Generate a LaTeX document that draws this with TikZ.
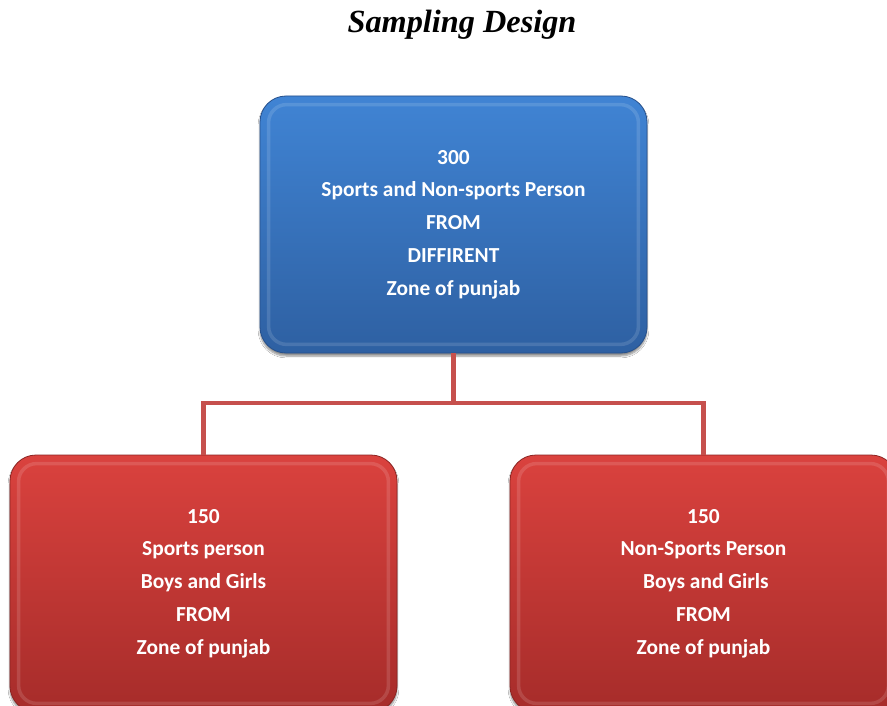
\documentclass[tikz,border=0pt]{standalone}
\usepackage{fontspec}
\setmainfont{Liberation Serif}
\newfontfamily\boxfont{Carlito}
\usetikzlibrary{calc,shadows.blur}
\definecolor{bluetop}{RGB}{64,132,212}
\definecolor{bluebot}{RGB}{46,96,162}
\definecolor{blueedge}{RGB}{38,80,140}
\definecolor{redtop}{RGB}{218,66,62}
\definecolor{redbot}{RGB}{166,44,42}
\definecolor{rededge}{RGB}{140,36,34}
\definecolor{linkred}{RGB}{198,80,77}
\tikzset{
  boxbase/.style={rectangle, rounded corners=26pt, minimum width=387pt, align=center,
    text=white, font=\boxfont\bfseries\fontsize{21.4}{32.8}\selectfont, line width=0.8pt,
    blur shadow={shadow xshift=0pt, shadow yshift=-3pt, shadow blur steps=6, shadow opacity=45}},
  bluebox/.style={boxbase, minimum height=257pt, top color=bluetop, bottom color=bluebot, draw=blueedge},
  redbox/.style={boxbase, minimum height=257pt, top color=redtop, bottom color=redbot, draw=rededge},
  glint/.style={draw=white, line width=3.5pt, opacity=0.13, rounded corners=18pt},
  link/.style={draw=linkred, line width=4.5pt},
  titlestyle/.style={font=\bfseries\itshape\fontsize{32.3}{38}\selectfont, text=black}
}
\begin{document}
\begin{tikzpicture}[x=1pt,y=-1pt]
\useasboundingbox (0,0) rectangle (887,706);
\fill[white] (0,0) rectangle (887,706);
\node[titlestyle] (title) at (462,25) {Sampling Design};
\coordinate (mid) at (453.5,403);
\coordinate (lt) at (203.5,403);
\coordinate (rt) at (703.5,403);
\node[bluebox] (top) at (453.5,224.5) {300\\Sports and Non-sports Person\\FROM\\DIFFIRENT\\Zone of punjab};
\node[redbox] (left) at (203.5,583.5) {150\\Sports person\\Boys and Girls\\FROM\\Zone of punjab};
\node[redbox] (right) at (703.5,583.5) {150\\Non-Sports Person\\\ Boys and Girls\\FROM\\Zone of punjab};
\draw[link] (top.south) -- (mid);
\draw[link, line join=miter] (left.north) -- (lt) -- (rt) -- (right.north);
\foreach \b in {top,left,right}{
  \draw[glint] ($(\b.north west)+(9,9)$) rectangle ($(\b.south east)+(-9,-9)$);
}
\end{tikzpicture}
\end{document}
